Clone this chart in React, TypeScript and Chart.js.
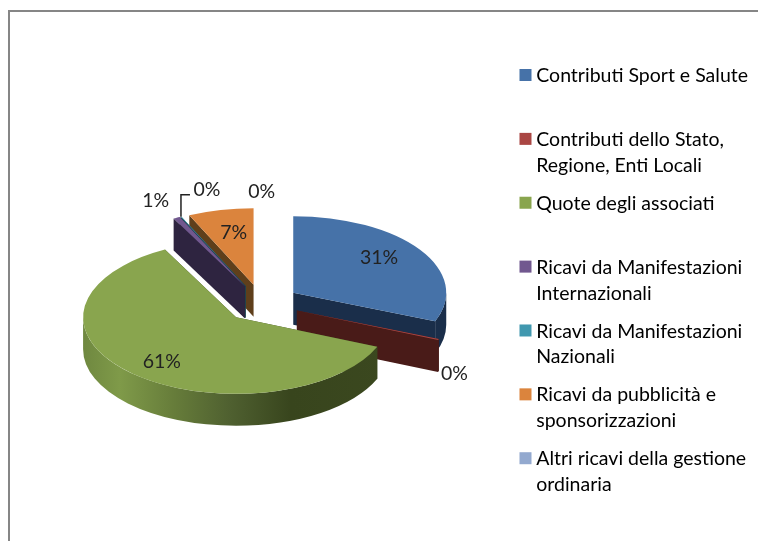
import React, { useEffect, useRef } from "react";
import { Chart, registerables } from "chart.js";

Chart.register(...registerables);

const categories: string[][] = [
  ["Contributi Sport e Salute", ""],
  ["Contributi dello Stato,", "Regione, Enti Locali"],
  ["Quote degli associati", ""],
  ["Ricavi da Manifestazioni", "Internazionali"],
  ["Ricavi da Manifestazioni", "Nazionali"],
  ["Ricavi da pubblicità e", "sponsorizzazioni"],
  ["Altri ricavi della gestione", "ordinaria"],
];
const shares = [31.1, 0.2, 61.0, 0.7, 0.1, 6.9, 0];
const topColors = ["#4672a8", "#aa4643", "#89a54e", "#71588f", "#4198af", "#db843d", "#93a9cf"];
const wallColors = ["#1a2e4a", "#491b18", "#3a471f", "#2e2440", "#1b4450", "#5f3f1b", "#3d4a60"];
const greenRimStops = ["#6f8840", "#7f9a49", "#667c3a", "#4f6030", "#38451d", "#3b481f"];

const FONT = "Lato, Carlito, Calibri, sans-serif";
const TILT = 0.5;
const DEPTH = 32;
const EXPLODE = 38;
const SHIFT_Y = 5.8;
const DRAW_ORDER = [5, 4, 3, 0, 1, 2];
const LABEL_SHIFT = [[-41, 8], [16, 34], [29, -12], [-21, -17], [26, -27], [13, 23], [0, -16]];
const LEADER_INDEX = 4;

const pie3d = {
  id: "pie3d",
  beforeDraw(chart: any) {
    const { ctx, width, height } = chart;
    ctx.save();
    ctx.strokeStyle = "#868686";
    ctx.lineWidth = 2;
    ctx.beginPath();
    ctx.moveTo(9, height);
    ctx.lineTo(9, 11);
    ctx.lineTo(width, 11);
    ctx.stroke();
    ctx.restore();
  },
  beforeDatasetDraw(chart: any, args: any) {
    const { ctx } = chart;
    const arcs = chart.getDatasetMeta(args.index).data;
    const total = shares.reduce((a, b) => a + b, 0);
    const geo = arcs.map((arc: any) => {
      const mid = (arc.startAngle + arc.endAngle) / 2;
      return {
        cx: arc.x + Math.cos(mid) * EXPLODE,
        cy: arc.y + SHIFT_Y + Math.sin(mid) * EXPLODE * TILT,
        r: arc.outerRadius,
        mid,
      };
    });
    DRAW_ORDER.forEach((i) => {
      const arc = arcs[i];
      const g = geo[i];
      const a = arc.startAngle;
      const b = arc.endAngle;
      ctx.save();
      ctx.fillStyle = wallColors[i];
      [a, b].forEach((t: number) => {
        const ex = g.cx + Math.cos(t) * g.r;
        const ey = g.cy + Math.sin(t) * g.r * TILT;
        ctx.beginPath();
        ctx.moveTo(g.cx, g.cy);
        ctx.lineTo(ex, ey);
        ctx.lineTo(ex, ey + DEPTH);
        ctx.lineTo(g.cx, g.cy + DEPTH);
        ctx.closePath();
        ctx.fill();
      });
      const ra = Math.max(a, 0);
      const rb = Math.min(b, Math.PI);
      if (rb > ra) {
        if (i === 2) {
          const grad = ctx.createLinearGradient(g.cx - g.r, 0, g.cx + g.r, 0);
          const stops = [0, 0.12, 0.3, 0.48, 0.68, 1];
          stops.forEach((s, k) => grad.addColorStop(s, greenRimStops[k]));
          ctx.fillStyle = grad;
        }
        ctx.beginPath();
        ctx.ellipse(g.cx, g.cy, g.r, g.r * TILT, 0, ra, rb);
        ctx.ellipse(g.cx, g.cy + DEPTH, g.r, g.r * TILT, 0, rb, ra, true);
        ctx.closePath();
        ctx.fill();
      }
      ctx.translate(g.cx, g.cy);
      ctx.scale(1, TILT);
      ctx.translate(-arc.x, -arc.y);
      arc.draw(ctx);
      ctx.restore();
    });

    ctx.save();
    ctx.fillStyle = "#222222";
    ctx.font = `19.5px ${FONT}`;
    ctx.textAlign = "center";
    ctx.textBaseline = "middle";
    geo.forEach((g: any, i: number) => {
      const rimX = g.cx + Math.cos(g.mid) * g.r;
      const rimY = g.cy + Math.sin(g.mid) * g.r * TILT;
      const lx = rimX + LABEL_SHIFT[i][0];
      const ly = rimY + LABEL_SHIFT[i][1];
      ctx.fillText(`${Math.round((shares[i] / total) * 100)}%`, lx, ly);
      if (i === LEADER_INDEX) {
        ctx.strokeStyle = "#222222";
        ctx.lineWidth = 1.5;
        ctx.beginPath();
        ctx.moveTo(rimX, rimY);
        ctx.lineTo(rimX, ly + 5);
        ctx.lineTo(lx - 17, ly + 5);
        ctx.stroke();
      }
    });
    ctx.restore();
    return false;
  },
  afterDraw(chart: any) {
    const { ctx, legend } = chart;
    ctx.save();
    legend.legendHitBoxes.forEach((box: any, i: number) => {
      ctx.fillStyle = topColors[i];
      ctx.fillRect(box.left, box.top + 3, 12, 12);
    });
    ctx.restore();
  },
};

export default function App() {
  const ref = useRef<HTMLCanvasElement>(null);
  useEffect(() => {
    const chart = new Chart(ref.current as HTMLCanvasElement, {
      type: "pie",
      data: {
        labels: categories as any,
        datasets: [
          {
            data: shares,
            backgroundColor: topColors,
            borderWidth: 0,
          },
        ],
      },
      options: {
        animation: false,
        responsive: false,
        radius: 153,
        layout: { padding: { left: 16, top: 54, bottom: 0, right: 0 } },
        plugins: {
          tooltip: { enabled: false },
          legend: {
            position: "right",
            align: "start",
            labels: {
              boxWidth: 7,
              boxHeight: 7,
              padding: 12,
              color: "#222222",
              font: { family: FONT, size: 19.5, lineHeight: 1.33 },
              generateLabels: () =>
                categories.map((text, i) => ({
                  text,
                  fillStyle: "rgba(0,0,0,0)",
                  strokeStyle: "rgba(0,0,0,0)",
                  lineWidth: 0,
                  index: i,
                })) as any,
            },
          },
        },
      } as any,
      plugins: [pie3d],
    });
    return () => chart.destroy();
  }, []);
  return (
    <canvas
      ref={ref}
      width={758}
      height={541}
      style={{ position: "absolute", left: 0, top: 0 }}
    />
  );
}
